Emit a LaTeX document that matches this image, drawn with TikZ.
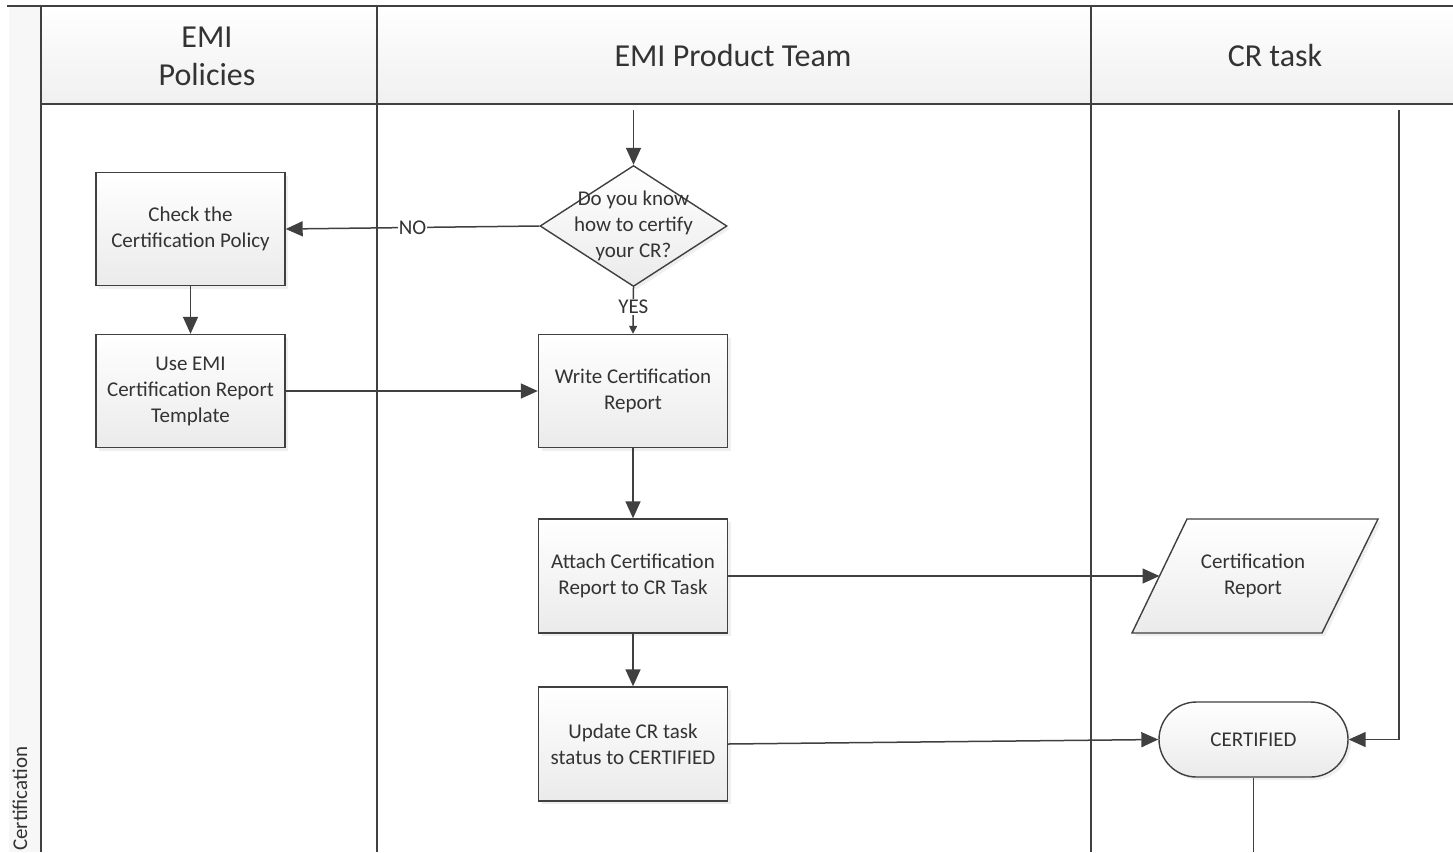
\documentclass[tikz,border=0pt]{standalone}
\usepackage{fontspec}
\setmainfont{Carlito}
\usetikzlibrary{arrows.meta,shapes.geometric,shapes.misc,shadows,calc}
\definecolor{linecol}{HTML}{404040}
\definecolor{txtcol}{HTML}{333333}
\begin{document}
\begin{tikzpicture}[x=1pt,y=-1pt,
  lane/.style={draw=linecol, line width=1.6pt},
  hdr/.style={align=center, text=txtcol, font=\fontsize{32}{38}\selectfont},
  boxfill/.style={draw=linecol, line width=1.4pt, top color=white, bottom color=gray!16,
     drop shadow={shadow xshift=3pt, shadow yshift=-3pt, opacity=0.12}},
  procbox/.style={boxfill, rectangle, minimum width=189pt, minimum height=113pt,
     align=center, text=txtcol, font=\fontsize{21}{26}\selectfont, inner sep=0pt},
  txt/.style={align=center, text=txtcol, font=\fontsize{21}{26}\selectfont},
  conn/.style={draw=linecol, line width=1.5pt, -{Triangle[length=17pt,width=15pt]}},
  connsmall/.style={draw=linecol, line width=1.5pt, -{Triangle[length=8pt,width=8pt]}},
  plain/.style={draw=linecol, line width=1.5pt},
  lbl/.style={fill=white, inner sep=1pt, text=txtcol, font=\fontsize{21}{24}\selectfont}
]
\useasboundingbox (0,0) rectangle (1453,852);
\clip (0,0) rectangle (1453,852);
\fill[white] (0,0) rectangle (1453,852);
% pool strip and header
\fill[gray!6] (9,6) rectangle (41,852);
\shade[top color=white, bottom color=gray!12] (41,6) rectangle (1453,104);
\draw[lane] (7,6) -- (1453,6);
\draw[lane] (41,104) -- (1453,104);
\draw[lane] (41,6) -- (41,852);
\draw[lane] (377,6) -- (377,852);
\draw[lane] (1091,6) -- (1091,852);
\node[hdr] (h1) at (207,56) {EMI\\Policies};
\node[hdr] (h2) at (733,56) {EMI Product Team};
\node[hdr] (h3) at (1275,56) {CR task};
\node[rotate=90, anchor=west, inner sep=0pt, text=txtcol, font=\fontsize{21}{24}\selectfont] (pool) at (20,851) {Certification};

% nodes
\node[procbox] (check) at (190.5,229) {Check the\\Certification Policy};
\node[procbox] (use) at (190.5,391) {Use EMI\\Certification Report\\Template};
\node[boxfill, diamond, minimum width=187pt, minimum height=121pt, inner sep=0pt] (dia) at (633.5,226) {};
\node[txt] (diat) at (dia.center) {Do you know\\how to certify\\your CR?};
\node[procbox] (write) at (633,391) {Write Certification\\Report};
\node[procbox, minimum height=114pt] (att) at (633,576) {Attach Certification\\Report to CR Task};
\node[procbox, minimum height=114pt] (upd) at (633,744) {Update CR task\\status to CERTIFIED};
% parallelogram
\path[boxfill] (1187,519) -- (1378,519) -- (1322,633) -- (1132,633) -- cycle;
\node[txt] (cr) at (1253,576) {Certification\\Report};
\coordinate (crw) at (1159.5,576);
\node[boxfill, rounded rectangle, minimum width=189pt, minimum height=75pt, inner sep=0pt,
      text=txtcol, font=\fontsize{21}{24}\selectfont] (cert) at (1253.5,739.5) {CERTIFIED};

% connectors
\coordinate (top2) at (633.5,110);
\coordinate (top3) at (1399,110);
\coordinate (bot) at (1253.5,852);
\draw[conn] (top2) -- (dia.north);
\draw[conn] (dia.west) -- node[lbl] {NO} (check.east);
\draw[connsmall] (dia.south) -- node[lbl, pos=0.42] {YES} (write.north);
\draw[conn] (check.south) -- (use.north);
\draw[conn] (use.east) -- (write.west);
\draw[conn] (write.south) -- (att.north);
\draw[conn] (att.south) -- (upd.north);
\draw[conn] (att.east) -- (crw);
\draw[conn] (upd.east) -- (cert.west);
\draw[conn] (top3) |- (cert.east);
\draw[plain] (cert.south) -- (bot);
\end{tikzpicture}
\end{document}
